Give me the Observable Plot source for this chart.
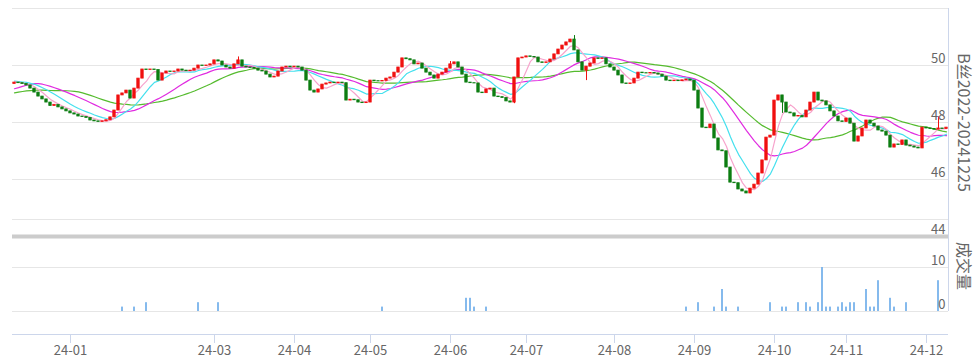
<!DOCTYPE html>
<html><head><meta charset="utf-8">
<script src="https://cdn.jsdelivr.net/npm/d3@7"></script>
<script src="https://cdn.jsdelivr.net/npm/@observablehq/plot@0.6"></script>
<style>
body{margin:0;background:#fff;}
#chart{position:relative;width:977px;height:363px;}
#chart svg{position:absolute;left:0;}
</style></head><body><div id="chart"></div>
<script>
// ---- data ----
const open = [
49.35,49.40,49.38,49.35,49.30,49.19,49.05,48.91,48.81,48.70,
48.58,48.62,48.53,48.46,48.39,48.32,48.28,48.21,48.19,48.16,
48.07,48.04,48.02,48.04,48.08,48.18,48.42,48.95,49.02,49.12,
48.84,49.19,49.54,49.86,49.84,49.86,49.84,49.47,49.72,49.79,
49.77,49.79,49.86,49.82,49.80,49.82,49.89,50.00,49.98,50.00,
50.04,50.18,50.14,50.00,49.93,49.89,50.04,50.18,49.96,49.93,
49.91,49.89,49.82,49.79,49.68,49.58,49.61,49.79,49.93,49.96,
49.94,49.96,49.93,49.82,49.47,49.12,49.05,49.16,49.33,49.37,
49.40,49.38,49.40,49.38,48.77,48.80,48.78,48.70,48.68,48.70,
49.47,49.45,49.44,49.46,49.54,49.58,49.75,49.93,50.25,50.22,
50.18,50.04,50.07,49.89,49.75,49.65,49.54,49.68,49.75,49.89,
50.04,50.11,49.93,49.68,49.40,49.38,49.37,49.05,49.03,49.16,
49.19,48.91,48.89,48.86,48.74,48.70,49.58,50.25,50.28,50.32,
50.30,50.28,50.11,50.09,50.11,50.21,50.39,50.56,50.70,50.81,
50.91,50.53,50.11,49.82,49.96,50.07,50.25,50.23,50.25,50.04,
49.93,49.82,49.65,49.37,49.35,49.37,49.54,49.75,49.73,49.72,
49.74,49.72,49.68,49.61,49.47,49.45,49.47,49.45,49.48,49.51,
49.47,49.12,48.49,47.82,47.80,47.93,47.44,47.02,46.99,46.42,
45.89,45.87,45.65,45.58,45.51,45.68,45.82,46.21,46.67,47.47,
47.54,48.77,48.95,48.70,48.35,48.32,48.21,48.23,48.18,48.42,
48.70,49.05,48.77,48.74,48.60,48.39,48.21,48.04,48.02,48.14,
47.96,47.33,47.51,47.79,48.07,47.96,47.86,47.72,47.68,47.54,
47.12,47.23,47.21,47.37,47.19,47.16,47.12,47.09,47.82,47.79,
47.77,47.75,47.79,47.77];
const close = [
49.40,49.38,49.35,49.30,49.19,49.05,48.91,48.81,48.70,48.58,
48.62,48.53,48.46,48.39,48.32,48.28,48.21,48.19,48.16,48.07,
48.04,48.02,48.04,48.08,48.18,48.42,48.95,49.02,49.12,48.84,
49.19,49.54,49.86,49.84,49.86,49.84,49.47,49.72,49.79,49.77,
49.79,49.86,49.82,49.80,49.82,49.89,50.00,49.98,50.00,50.04,
50.18,50.14,50.00,49.93,49.89,50.04,50.18,49.96,49.93,49.91,
49.89,49.82,49.79,49.68,49.58,49.61,49.79,49.93,49.96,49.94,
49.96,49.93,49.82,49.47,49.12,49.05,49.16,49.33,49.37,49.40,
49.38,49.40,49.38,48.77,48.80,48.78,48.70,48.68,48.70,49.47,
49.45,49.44,49.46,49.54,49.58,49.75,49.93,50.25,50.22,50.18,
50.04,50.07,49.89,49.75,49.65,49.54,49.68,49.75,49.89,50.04,
50.11,49.93,49.68,49.40,49.38,49.37,49.05,49.03,49.16,49.19,
48.91,48.89,48.86,48.74,48.70,49.58,50.25,50.28,50.32,50.30,
50.28,50.11,50.09,50.11,50.21,50.39,50.56,50.70,50.81,50.91,
50.53,50.11,49.82,49.96,50.07,50.25,50.23,50.25,50.04,49.93,
49.82,49.65,49.37,49.35,49.37,49.54,49.75,49.73,49.72,49.74,
49.72,49.68,49.61,49.47,49.45,49.47,49.45,49.48,49.51,49.47,
49.12,48.49,47.82,47.80,47.93,47.44,47.02,46.99,46.42,45.89,
45.87,45.65,45.58,45.51,45.68,45.82,46.21,46.67,47.47,47.54,
48.77,48.95,48.70,48.35,48.32,48.21,48.23,48.18,48.42,48.70,
49.05,48.77,48.74,48.60,48.39,48.21,48.04,48.02,48.14,47.96,
47.33,47.51,47.79,48.07,47.96,47.86,47.72,47.68,47.54,47.12,
47.23,47.21,47.37,47.19,47.16,47.12,47.09,47.82,47.79,47.77,
47.75,47.79,47.77,47.82];
// closes before the visible window (only used to start the moving averages)
const priorClose = [
48.60,48.70,48.65,48.80,48.75,48.70,48.85,48.90,48.80,48.75,
48.60,48.50,48.45,48.55,48.60,48.90,49.20,49.40,49.45,49.50,
49.55,49.50,49.45,49.50,49.40,49.45,49.50,49.40,49.38];
const highDay = [56, 109, 140, 231];
const highValue = [50.30, 50.14, 51.05, 48.20];
const lowDay = [125, 143, 192];
const lowValue = [48.66, 49.47, 48.32];
const volumeDay = [27,30,33,46,51,92,113,114,115,118,168,171,175,177,178,181,189,192,193,196,198,199,201,202,203,204,206,207,208,209,210,213,214,215,216,219,220,223,231];
const volume    = [1,1,2,2,2,1,3,3,1,1,1,2,1,5,1,1,2,1,1,2,2,1,2,10,1,1,1,2,1,2,2,5,1,1,7,3,1,2,7];
const monthLabel = ["24-01","24-03","24-04","24-05","24-06","24-07","24-08","24-09","24-10","24-11","24-12"];
const monthStartDay = [14,50,70,89,109,128,150,170,190,208,228];
const maPeriods = [5,10,20,30];
const maColors = ["#f7a3cc","#44e0ee","#e02ce0","#55bb2e"];
const priceTicks = [44,46,48,50];
const volumeTicks = [0,10];
const priceTitle = "B丝2022-20241225";
const volumeTitle = "成交量";

// ---- derived ----
const N = close.length;
const days = close.map((_, i) => i);
const RED = "#f01010", GREEN = "#0d7d12";
const candles = days.map(i => ({i, o: open[i], c: close[i], col: close[i] >= open[i] ? RED : GREEN}));
const wickMap = new Map();
highDay.forEach((d, k) => wickMap.set(d, {...(wickMap.get(d) || {}), hi: highValue[k]}));
lowDay.forEach((d, k) => wickMap.set(d, {...(wickMap.get(d) || {}), lo: lowValue[k]}));
const wicks = [...wickMap].map(([i, w]) => ({
  i,
  hi: w.hi ?? Math.max(open[i], close[i]),
  lo: w.lo ?? Math.min(open[i], close[i]),
  col: candles[i].col
}));
const series = priorClose.concat(close);
const P = priorClose.length;
const mas = maPeriods.map(n => days.map(i => {
  const j = i + P;
  return d3.mean(series.slice(Math.max(0, j - n + 1), j + 1));
}));

const FONT = '"Noto Sans CJK SC","Noto Sans",sans-serif';
const xDomain = [-0.5, N - 0.5];
const priceDomain = [44, 52];
const volDomain = [-5.23, 20.91];

const topPlot = Plot.plot({
  width: 977, height: 240,
  marginLeft: 12, marginRight: 29, marginTop: 8, marginBottom: 4,
  x: {domain: xDomain, axis: null},
  y: {domain: priceDomain, axis: null},
  style: {background: "transparent", overflow: "visible", fontFamily: FONT},
  marks: [
    Plot.ruleY([46, 48, 50, 52], {stroke: "#e6e6e6"}),
    Plot.ruleX([N - 0.5], {stroke: "#ccd6eb"}),
    ...[3, 2, 1, 0].map(k => Plot.line(days, {x: d => d, y: d => mas[k][d], stroke: maColors[k], strokeWidth: 1.2})),
    Plot.ruleX(wicks, {x: "i", y1: "lo", y2: "hi", stroke: "col", strokeWidth: 1}),
    Plot.rect(candles, {x1: d => d.i - 0.3, x2: d => d.i + 0.3, y1: "o", y2: "c", fill: "col", stroke: "col", strokeWidth: 0.8}),
    Plot.ruleY([44], {stroke: "#cccccc", strokeWidth: 4}),
    Plot.text(priceTicks, {y: d => d, text: d => String(d), frameAnchor: "right", textAnchor: "end", dx: -3, dy: -7, fill: "#666", fontSize: 13}),
    Plot.text([priceTitle], {frameAnchor: "right", textAnchor: "middle", lineAnchor: "middle", dx: 15, rotate: 90, fill: "#666", fontSize: 16})
  ]
});
topPlot.style.top = "0px";

const bottomPlot = Plot.plot({
  width: 977, height: 151,
  marginLeft: 12, marginRight: 29, marginTop: 7, marginBottom: 29,
  x: {domain: xDomain},
  y: {domain: volDomain, axis: null},
  style: {background: "transparent", overflow: "visible", fontFamily: FONT},
  marks: [
    Plot.ruleY([volDomain[1]], {stroke: "#e6e6e6"}),
    Plot.ruleY(volumeTicks, {stroke: "#e6e6e6"}),
    Plot.ruleX([N - 0.5], {y1: 0, y2: volDomain[1], stroke: "#ccd6eb"}),
    Plot.rect(volumeDay, {x1: d => d - 0.23, x2: d => d + 0.23, y1: 0, y2: (d, k) => volume[k], fill: "#7cb5ec"}),
    Plot.ruleY([volDomain[0]], {stroke: "#ccd6eb"}),
    Plot.axisX({ticks: monthStartDay, tickFormat: d => monthLabel[monthStartDay.indexOf(d)], tickSize: 9, tickPadding: 2, stroke: "#ccd6eb", fill: "#666", fontSize: 13, label: null}),
    Plot.text(volumeTicks, {y: d => d, text: d => String(d), frameAnchor: "right", textAnchor: "end", dx: -3, dy: -7, fill: "#666", fontSize: 13}),
    Plot.text([volumeTitle], {frameAnchor: "right", textAnchor: "middle", lineAnchor: "middle", dx: 15, dy: -11, rotate: 90, fill: "#666", fontSize: 16})
  ]
});
bottomPlot.style.top = "212px";

const root = document.getElementById("chart");
root.appendChild(topPlot);
root.appendChild(bottomPlot);
</script>
</body></html>
